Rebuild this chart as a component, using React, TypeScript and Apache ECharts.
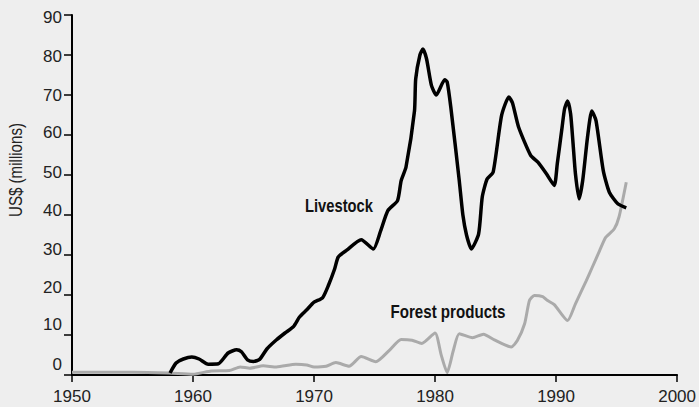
import React, { useEffect, useRef } from "react";
import * as echarts from "echarts";

const livestock: [number, number][] = [
  [1958.1, 0.5], [1958.6, 3.0], [1959.2, 4.0], [1959.9, 4.5], [1960.5, 4.0], [1961.25, 2.7],
  [1962.1, 2.8], [1962.9, 5.5], [1963.6, 6.3], [1964.0, 5.8], [1964.5, 3.8], [1965.0, 3.4],
  [1965.5, 3.9], [1966.1, 6.5], [1966.9, 8.8], [1967.6, 10.5], [1968.3, 12.1], [1968.8, 14.5],
  [1969.4, 16.3], [1970.0, 18.2], [1970.7, 19.3], [1971.2, 22.5], [1971.7, 26.5], [1972.0, 29.5],
  [1972.7, 31.2], [1973.9, 33.8], [1974.9, 31.5], [1975.5, 36], [1976.1, 41.1], [1976.9, 43.6],
  [1977.2, 48.6], [1977.6, 52], [1978.3, 66], [1978.4, 74], [1978.75, 80], [1979.0, 81.5],
  [1979.3, 79], [1979.7, 72.4], [1980.1, 70], [1980.8, 73.8], [1981.0, 73.3], [1981.3, 67],
  [1982.0, 48.6], [1982.3, 40], [1982.6, 35], [1983.0, 31.5], [1983.6, 35.3], [1983.9, 44.5],
  [1984.3, 49], [1984.8, 50.7], [1985.5, 64.9], [1986.1, 69.5], [1986.4, 68], [1986.9, 62],
  [1987.9, 54.9], [1988.5, 53.2], [1989.2, 50.3], [1989.85, 47.4], [1990.1, 52.8], [1990.5, 62],
  [1990.7, 66.5], [1990.95, 68.5], [1991.2, 65.3], [1991.4, 58], [1991.6, 50.3], [1991.9, 44],
  [1992.2, 48.6], [1992.6, 59.5], [1992.95, 66], [1993.3, 63.6], [1993.9, 51.1], [1994.4, 45.7],
  [1995.1, 42.8], [1995.8, 41.8],
];

const forestProducts: [number, number][] = [
  [1950, 0.7], [1955, 0.7], [1958, 0.5], [1960, 0.2], [1961.5, 1.0], [1963, 1.1], [1963.9, 2.0],
  [1964.7, 1.7], [1965.8, 2.3], [1966.9, 2.0], [1968.5, 2.7], [1969.4, 2.5], [1970.0, 2.0],
  [1971.0, 2.2], [1971.8, 3.1], [1972.9, 2.2], [1973.9, 4.6], [1975.1, 3.3], [1976.2, 6.1],
  [1977.2, 8.9], [1978.1, 8.7], [1978.9, 7.9], [1980.0, 10.5], [1980.5, 5.1], [1981.0, 0.6],
  [1981.5, 6.0], [1982.0, 10.3], [1983.1, 9.3], [1984.0, 10.2], [1984.9, 8.8], [1986.3, 7.0],
  [1986.8, 8.6], [1987.4, 12.8], [1987.8, 18.6], [1988.2, 19.9], [1988.9, 19.6], [1989.3, 18.6],
  [1989.85, 17.6], [1990.95, 13.6], [1991.6, 17.8], [1992.5, 23.6], [1993.0, 27], [1993.6, 31.1],
  [1994.1, 34.4], [1994.8, 36.5], [1995.2, 39.5], [1995.8, 48.2],
];

const seriesNames = ["Livestock", "Forest products"];
const yAxisTitle = "US$ (millions)";

const FONT = "'Liberation Sans', Arial, sans-serif";
const TICK_COLOR = "#222";

// vertical nudge (px, positive = up) of each y tick label, to follow the reference
const yLabelShift: Record<number, number> = {
  0: 11, 10: 11, 20: 8, 30: 6, 40: 5, 50: 3, 60: 2.5, 70: 0, 80: -1.5, 90: -2,
};
const yRich: Record<string, any> = {};
Object.keys(yLabelShift).forEach((k) => {
  const s = yLabelShift[Number(k)];
  yRich["s" + k] = {
    fontSize: 17,
    fontFamily: FONT,
    color: TICK_COLOR,
    padding: s >= 0 ? [0, 0, 2 * s, 0] : [-2 * s, 0, 0, 0],
  };
});

export default function App() {
  const ref = useRef<HTMLDivElement>(null);
  useEffect(() => {
    if (!ref.current) return;
    const chart = echarts.init(ref.current, null, { renderer: "svg" });
    chart.setOption({
      animation: false,
      backgroundColor: "#eeeeee",
      grid: { left: 72, right: 21, top: 15, bottom: 32 },
      xAxis: {
        type: "value",
        min: 1950,
        max: 2000,
        interval: 10,
        axisLine: { show: true, lineStyle: { color: "#000", width: 2 } },
        axisTick: { show: true, length: 7, lineStyle: { color: "#000", width: 1.5 } },
        splitLine: { show: false },
        axisLabel: {
          color: TICK_COLOR,
          fontSize: 17,
          fontFamily: FONT,
          margin: 13,
          formatter: (v: number) => String(v),
        },
      },
      yAxis: {
        type: "value",
        min: 0,
        max: 90,
        interval: 10,
        axisLine: { show: true, lineStyle: { color: "#000", width: 2 } },
        axisTick: { show: true, length: 8, lineStyle: { color: "#000", width: 1.5 } },
        splitLine: { show: false },
        axisLabel: {
          color: TICK_COLOR,
          fontSize: 17,
          fontFamily: FONT,
          margin: 10,
          formatter: (v: number) => `{s${v}|${v}}`,
          rich: yRich,
        },
      },
      graphic: [
        {
          type: "text",
          x: 16,
          y: 170,
          rotation: Math.PI / 2,
          scaleX: 0.84,
          style: {
            text: yAxisTitle,
            fill: TICK_COLOR,
            font: `18px ${FONT}`,
            align: "center",
            verticalAlign: "middle",
          },
        },
        {
          type: "text",
          x: 339,
          y: 205,
          scaleX: 0.82,
          style: {
            text: seriesNames[0],
            fill: "#111",
            font: `bold 18px ${FONT}`,
            align: "center",
            verticalAlign: "middle",
          },
        },
        {
          type: "text",
          x: 448,
          y: 312,
          scaleX: 0.84,
          style: {
            text: seriesNames[1],
            fill: "#111",
            font: `bold 18px ${FONT}`,
            align: "center",
            verticalAlign: "middle",
          },
        },
      ],
      series: [
        {
          name: seriesNames[1],
          type: "line",
          data: forestProducts,
          showSymbol: false,
          smooth: 0.2,
          lineStyle: { color: "#aaaaaa", width: 3 },
          z: 2,
        },
        {
          name: seriesNames[0],
          type: "line",
          data: livestock,
          showSymbol: false,
          smooth: 0.2,
          lineStyle: { color: "#000000", width: 3.5 },
          z: 3,
        },
      ],
    });
    return () => chart.dispose();
  }, []);
  return <div ref={ref} style={{ width: 699, height: 407, position: "absolute", left: 0, top: 0 }} />;
}
